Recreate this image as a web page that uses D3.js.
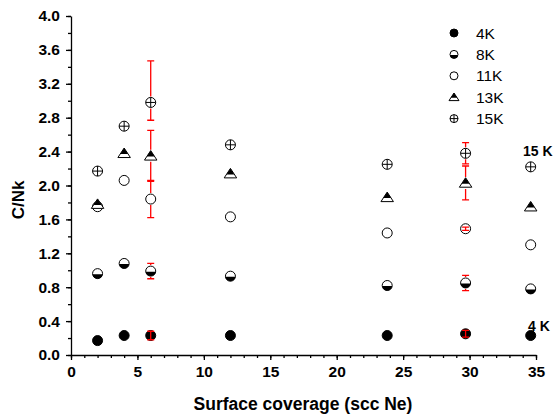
<!DOCTYPE html>
<html>
<head>
<meta charset="utf-8">
<script src="https://cdn.jsdelivr.net/npm/d3@7"></script>
<style>
  body { margin: 0; background: #fff; }
  svg { font-family: "Liberation Sans", Arial, sans-serif; }
  .axis path, .axis line { stroke: #000; stroke-width: 1.3; }
  .axis text { font-size: 15.5px; font-weight: bold; fill: #000; }
</style>
</head>
<body>
<svg id="chart" width="553" height="415"></svg>
<script>
// x positions (scc Ne) shared by all temperature series
const coverage = [2, 4, 6, 12, 23.8, 29.7, 34.6];

const seriesNames = ["4K", "8K", "11K", "13K", "15K"];
const seriesShapes = ["filled", "half", "open", "triangle", "cross"];
const values4K = [0.17, 0.23, 0.23, 0.23, 0.23, 0.25, 0.23];
const values8K = [0.96, 1.08, 0.99, 0.93, 0.82, 0.85, 0.78];
const values11K = [1.75, 2.06, 1.84, 1.63, 1.44, 1.49, 1.3];
const values13K = [1.78, 2.38, 2.35, 2.14, 1.86, 2.03, 1.75];
const values15K = [2.17, 2.7, 2.98, 2.48, 2.25, 2.38, 2.22];
const seriesValues = [values4K, values8K, values11K, values13K, values15K];

// red error bars (series index, point index, minus, plus)
const errSeries = [0, 1, 2, 3, 4, 0, 1, 2, 3, 4];
const errPoint = [2, 2, 2, 2, 2, 5, 5, 5, 5, 5];
const errMinus = [0.05, 0.09, 0.22, 0.3, 0.21, 0.04, 0.09, 0.02, 0.2, 0.125];
const errPlus = [0.05, 0.09, 0.22, 0.3, 0.49, 0.04, 0.09, 0.02, 0.2, 0.125];

const xTicks = [0, 5, 10, 15, 20, 25, 30, 35];
const yTicks = [0, 0.4, 0.8, 1.2, 1.6, 2.0, 2.4, 2.8, 3.2, 3.6, 4.0];

const svg = d3.select("#chart");
const x = d3.scaleLinear().domain([0, 35]).range([71, 536]);
const y = d3.scaleLinear().domain([0, 4]).range([355, 16]);

// minor ticks first, then major ticks with labels
svg.append("g").attr("class", "axis").attr("transform", "translate(0,355)")
  .call(d3.axisBottom(x).tickValues(d3.range(0, 36, 1)).tickSize(3).tickFormat(""))
  .call((g) => g.select(".domain").remove());
svg.append("g").attr("class", "axis").attr("transform", "translate(0,355)")
  .call(d3.axisBottom(x).tickValues(xTicks).tickSize(5).tickSizeOuter(0).tickPadding(6).tickFormat(d3.format("d")));

svg.append("g").attr("class", "axis").attr("transform", "translate(71,0)")
  .call(d3.axisLeft(y).tickValues(d3.range(0, 4.01, 0.2)).tickSize(3).tickFormat(""))
  .call((g) => g.select(".domain").remove());
svg.append("g").attr("class", "axis").attr("transform", "translate(71,0)")
  .call(d3.axisLeft(y).tickValues(yTicks).tickSize(5).tickSizeOuter(0).tickPadding(6).tickFormat(d3.format(".1f")));

// axis titles
svg.append("text")
  .attr("x", 303).attr("y", 410)
  .attr("text-anchor", "middle")
  .style("font-size", "17.5px").style("font-weight", "bold")
  .text("Surface coverage (scc Ne)");

svg.append("text")
  .attr("transform", "translate(24,200) rotate(-90)")
  .attr("text-anchor", "middle")
  .style("font-size", "17px").style("font-weight", "bold")
  .text("C/Nk");

// draw one marker of a given shape centred on (0,0)
function drawMarker(g, shape, r) {
  if (shape === "triangle") {
    const w = r * 1.25, top = -r * 1.05, bot = r * 0.85, mid = r * 0.15;
    const k = (mid - top) / (bot - top);
    g.append("path")
      .attr("d", `M0,${top}L${w},${bot}L${-w},${bot}Z`)
      .attr("fill", "#fff").attr("stroke", "#000").attr("stroke-width", 1);
    g.append("path")
      .attr("d", `M0,${top}L${w * k},${mid}L${-w * k},${mid}Z`)
      .attr("fill", "#000");
    return;
  }
  g.append("circle").attr("r", r)
    .attr("fill", shape === "filled" ? "#000" : "#fff")
    .attr("stroke", "#000").attr("stroke-width", 1);
  if (shape === "half") {
    const h = r * 0.12;
    const dx = Math.sqrt(r * r - h * h);
    g.append("path")
      .attr("d", `M${-dx},${h}A${r},${r} 0 0 0 ${dx},${h}Z`)
      .attr("fill", "#000");
  }
  if (shape === "cross") {
    g.append("path")
      .attr("d", `M${-r},0H${r}M0,${-r}V${r}`)
      .attr("stroke", "#000").attr("stroke-width", 1);
  }
}

const markerR = 5;

// data points
seriesValues.forEach((vals, si) => {
  const grp = svg.append("g").attr("class", "series");
  vals.forEach((v, i) => {
    const m = grp.append("g").attr("transform", `translate(${x(coverage[i])},${y(v)})`);
    drawMarker(m, seriesShapes[si], markerR);
  });
});

// error bars, leaving a gap where the line would cross the marker
const errGroup = svg.append("g").attr("class", "errors")
  .attr("stroke", "#ff0000").attr("stroke-width", 1.3).attr("fill", "none");
errSeries.forEach((si, k) => {
  const pi = errPoint[k];
  const cx = x(coverage[pi]);
  const cy = y(seriesValues[si][pi]);
  const yTop = y(seriesValues[si][pi] + errPlus[k]);
  const yBot = y(seriesValues[si][pi] - errMinus[k]);
  const gap = markerR + 1;
  const cap = 3.5;
  let d = `M${cx - cap},${yTop}H${cx + cap}M${cx - cap},${yBot}H${cx + cap}`;
  if (cy - yTop > gap) d += `M${cx},${yTop}V${cy - gap}`;
  else d += `M${cx},${yTop}V${cy}`;
  if (yBot - cy > gap) d += `M${cx},${cy + gap}V${yBot}`;
  else d += `M${cx},${cy}V${yBot}`;
  errGroup.append("path").attr("d", d);
});

// legend
const legend = svg.append("g").attr("class", "legend");
seriesNames.forEach((name, i) => {
  const row = legend.append("g").attr("transform", `translate(454,${33 + i * 21.4})`);
  drawMarker(row, seriesShapes[i], 4);
  row.append("text")
    .attr("x", 22).attr("dy", "0.36em")
    .style("font-size", "15.5px")
    .text(name);
});

// temperature annotations at the right edge
svg.append("text").attr("x", 523).attr("y", 156)
  .style("font-size", "14px").style("font-weight", "bold").text("15 K");
svg.append("text").attr("x", 528).attr("y", 330.5)
  .style("font-size", "14px").style("font-weight", "bold").text("4 K");
</script>
</body>
</html>
